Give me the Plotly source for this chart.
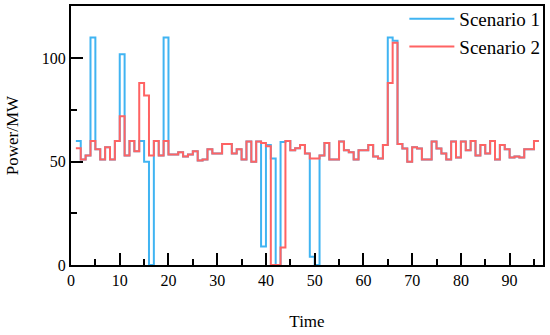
import plotly.graph_objects as go

# time steps 1..96
time = list(range(1, 97))

scenario2 = [56.5, 51, 53, 60, 56, 51, 57, 51, 60, 72,
             53, 60, 55, 88, 82, 53, 60, 53, 60, 53.5,
             53.5, 54.5, 52.5, 53.5, 55, 50.5, 51, 56, 54, 54,
             58.5, 58.5, 54, 56, 51, 59.7, 50, 59.7, 59, 57.5,
             0, 0, 8.5, 60, 55.5, 56.5, 58, 54, 51.5, 51.5,
             53, 59, 51, 51, 59.7, 55.5, 54.5, 51, 55.5, 55.5,
             58, 52.5, 51.5, 58, 88, 107.5, 58.5, 56.4, 50, 57,
             56.4, 51, 51, 59.7, 56.4, 54, 51, 59.7, 52, 59.7,
             55.5, 60, 53, 58, 54, 60, 51, 58, 56, 52,
             52.5, 52, 56, 56, 60, 60]

scenario1 = list(scenario2)
changes = {1: 60, 4: 110, 10: 102, 14: 60, 15: 50, 16: 0, 19: 110,
           39: 9, 40: 58, 41: 51.5, 42: 0, 43: 59.5,
           49: 4, 50: 0, 65: 110, 66: 108.5}
for k, v in changes.items():
    scenario1[k - 1] = v

fig = go.Figure()
fig.add_trace(go.Scatter(x=time, y=scenario1, mode='lines', line_shape='hv',
                         name='Scenario 1', line=dict(color='#40b4f2', width=2)))
fig.add_trace(go.Scatter(x=time, y=scenario2, mode='lines', line_shape='hv',
                         name='Scenario 2', line=dict(color='#ff6363', width=2)))

font = "Liberation Serif"
axis = dict(showline=True, linecolor='black', linewidth=2, mirror=True,
            ticks='inside', ticklen=12, tickwidth=2, tickcolor='black',
            showgrid=False, zeroline=False,
            tickfont=dict(family=font, size=16, color='black'))

fig.update_layout(
    width=550, height=335,
    margin=dict(l=71, r=7, t=0, b=70),
    plot_bgcolor='white', paper_bgcolor='white',
    showlegend=True,
    legend=dict(x=1.005, y=1, xanchor='right', yanchor='top',
                bgcolor='rgba(0,0,0,0)', itemwidth=45,
                font=dict(family=font, size=19, color='black'),
                tracegroupgap=0),
    xaxis=dict(axis, range=[0, 96.85], dtick=10,
               minor=dict(dtick=5, ticks='inside', ticklen=6, tickwidth=2, tickcolor='black'),
               title=dict(text='Time', font=dict(family=font, size=17, color='black'), standoff=27)),
    yaxis=dict(axis, range=[0, 125.3], dtick=50, domain=[0, 0.9774],
               minor=dict(dtick=25, ticks='inside', ticklen=6, tickwidth=2, tickcolor='black'),
               title=dict(text='Power/MW', font=dict(family=font, size=17, color='black'), standoff=19)),
)

fig.write_html("out.html", config={'displayModeBar': False},
               post_script="document.body.style.margin='0';")
